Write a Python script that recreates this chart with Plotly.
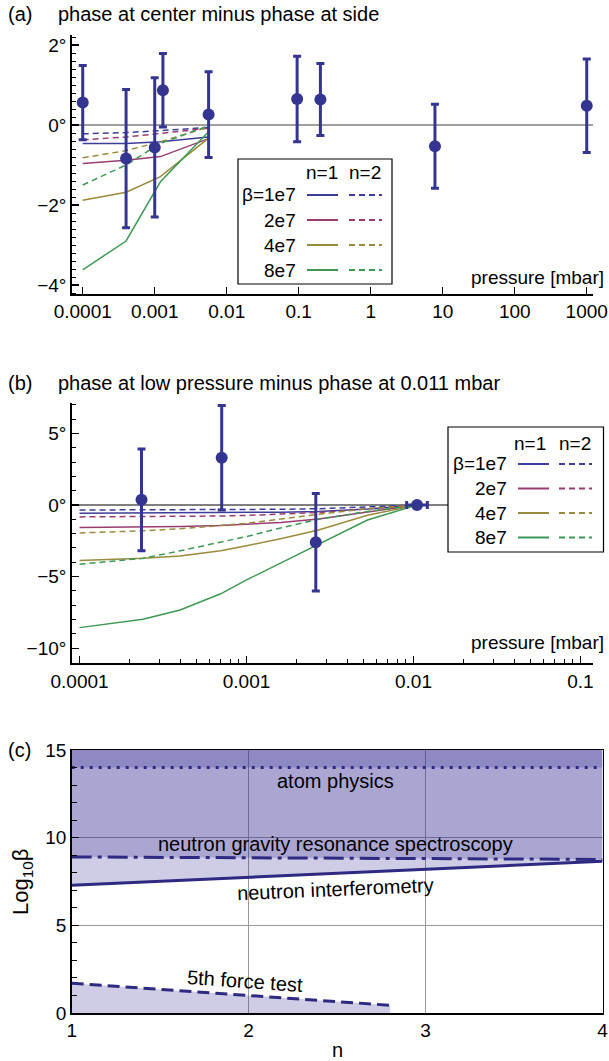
import plotly.graph_objects as go

W, H = 609, 1061
FONT = "Liberation Sans, Arial, sans-serif"

# ---------------- data ----------------
# panel (a): phase at center minus phase at side
a_pressure = [0.0001, 0.0004, 0.001, 0.0013, 0.0056, 0.095, 0.2, 7.8, 1000]
a_phase = [0.56, -0.84, -0.56, 0.87, 0.26, 0.65, 0.64, -0.53, 0.48]
a_err = [0.93, 1.73, 1.74, 0.92, 1.07, 1.07, 0.9, 1.05, 1.17]

a_theory_p = [0.0001, 0.0004, 0.0012, 0.0056]
a_n1 = {
    "1e7": [-0.46, -0.46, -0.42, -0.30],
    "2e7": [-0.96, -0.88, -0.79, -0.34],
    "4e7": [-1.88, -1.68, -1.29, -0.33],
    "8e7": [-3.62, -2.90, -1.42, -0.17],
}
a_n2 = {
    "1e7": [-0.22, -0.19, -0.14, -0.06],
    "2e7": [-0.37, -0.30, -0.21, -0.08],
    "4e7": [-0.82, -0.64, -0.42, -0.05],
    "8e7": [-1.50, -1.00, -0.46, -0.02],
}
a_xticks = [1e-4, 1e-3, 1e-2, 1e-1, 1, 10, 100, 1000]
a_xticklabels = ["0.0001", "0.001", "0.01", "0.1", "1", "10", "100", "1000"]
a_yticks = [-4, -2, 0, 2]
a_yticklabels = ["\u22124°", "\u22122°", "0°", "2°"]

# panel (b): phase at low pressure minus phase at 0.011 mbar
b_pressure = [0.000235, 0.00071, 0.0026, 0.0105]
b_phase = [0.36, 3.3, -2.6, 0.0]
b_err = [3.55, 3.65, 3.4, 0.0]
b_xerr_minus = [0, 0, 0, 0.0014]
b_xerr_plus = [0, 0, 0, 0.0016]

b_theory_p = [0.0001, 0.00024, 0.0004, 0.0007, 0.001, 0.0016, 0.0027, 0.0053, 0.0105]
b_n1 = {
    "1e7": [-0.58, -0.57, -0.56, -0.55, -0.53, -0.50, -0.45, -0.28, 0],
    "2e7": [-1.57, -1.55, -1.50, -1.43, -1.36, -1.22, -0.97, -0.50, 0],
    "4e7": [-3.88, -3.72, -3.56, -3.20, -2.85, -2.35, -1.74, -0.72, 0],
    "8e7": [-8.56, -7.98, -7.33, -6.20, -5.23, -4.05, -2.75, -1.05, 0],
}
b_n2 = {
    "1e7": [-0.35, -0.35, -0.34, -0.33, -0.32, -0.30, -0.26, -0.15, 0],
    "2e7": [-0.83, -0.82, -0.80, -0.77, -0.73, -0.65, -0.52, -0.27, 0],
    "4e7": [-1.95, -1.80, -1.66, -1.45, -1.28, -0.98, -0.64, -0.26, 0],
    "8e7": [-4.14, -3.72, -3.20, -2.60, -2.20, -1.60, -1.00, -0.45, 0],
}
b_xticks = [1e-4, 1e-3, 1e-2, 1e-1]
b_xticklabels = ["0.0001", "0.001", "0.01", "0.1"]
b_yticks = [-10, -5, 0, 5]
b_yticklabels = ["\u221210°", "\u22125°", "0°", "5°"]

# panel (c): exclusion limits
c_n = [1, 4]
c_atom = [14, 14]
c_top = [15, 15]
c_ngrs = [8.9, 8.76]
c_interf = [7.28, 8.66]
c_fifth_n = [1, 2.8]
c_fifth = [1.7, 0.44]
c_xticks = [1, 2, 3, 4]
c_yticks = [0, 5, 10, 15]

betas = ["1e7", "2e7", "4e7", "8e7"]
beta_labels = ["\u03b2=1e7", "2e7", "4e7", "8e7"]
colors = {
    "1e7": "rgb(61,61,153)",
    "2e7": "rgb(153,61,113)",
    "4e7": "rgb(153,139,61)",
    "8e7": "rgb(61,153,84)",
}
PT = "rgb(52,52,145)"
NAVY = "#2e2a82"
FILL = "rgba(51,43,145,0.235)"
DASH = "6px,4px"


def px(x):
    return x / W


def py(y):
    return 1 - y / H


fig = go.Figure()

# ---------- panel (a) ----------
for b in betas:
    fig.add_trace(go.Scatter(x=a_theory_p, y=a_n1[b], mode="lines",
                             line=dict(color=colors[b], width=1.5),
                             xaxis="x", yaxis="y", showlegend=False))
    fig.add_trace(go.Scatter(x=a_theory_p, y=a_n2[b], mode="lines",
                             line=dict(color=colors[b], width=1.5, dash=DASH),
                             xaxis="x", yaxis="y", showlegend=False))
fig.add_trace(go.Scatter(x=a_pressure, y=a_phase, mode="markers",
                         marker=dict(color=PT, size=12),
                         error_y=dict(type="data", array=a_err, color=PT,
                                      thickness=3, width=4),
                         xaxis="x", yaxis="y", showlegend=False))

# ---------- panel (b) ----------
for b in betas:
    fig.add_trace(go.Scatter(x=b_theory_p, y=b_n1[b], mode="lines",
                             line=dict(color=colors[b], width=1.5),
                             xaxis="x2", yaxis="y2", showlegend=False))
    fig.add_trace(go.Scatter(x=b_theory_p, y=b_n2[b], mode="lines",
                             line=dict(color=colors[b], width=1.5, dash=DASH),
                             xaxis="x2", yaxis="y2", showlegend=False))
fig.add_trace(go.Scatter(x=b_pressure, y=b_phase, mode="markers",
                         marker=dict(color=PT, size=12),
                         error_y=dict(type="data", array=b_err, color=PT,
                                      thickness=3, width=4),
                         error_x=dict(type="data", array=b_xerr_plus,
                                      arrayminus=b_xerr_minus, color=PT,
                                      thickness=3, width=4),
                         xaxis="x2", yaxis="y2", showlegend=False))


# ---------- panel (c) ----------
def band(lower, upper, xs=c_n):
    fig.add_trace(go.Scatter(x=xs, y=lower, mode="lines", line=dict(width=0),
                             xaxis="x3", yaxis="y3", showlegend=False,
                             hoverinfo="skip"))
    fig.add_trace(go.Scatter(x=xs, y=upper, mode="lines", line=dict(width=0),
                             fill="tonexty", fillcolor=FILL,
                             xaxis="x3", yaxis="y3", showlegend=False,
                             hoverinfo="skip"))


band(c_interf, c_top)
band(c_ngrs, c_top)
band(c_atom, c_top)
fig.add_trace(go.Scatter(x=c_fifth_n, y=c_fifth, mode="lines",
                         line=dict(width=0), fill="tozeroy", fillcolor=FILL,
                         xaxis="x3", yaxis="y3", showlegend=False))
fig.add_trace(go.Scatter(x=c_n, y=c_atom, mode="lines",
                         line=dict(color=NAVY, width=3, dash="3px,6px"),
                         xaxis="x3", yaxis="y3", showlegend=False))
fig.add_trace(go.Scatter(x=c_n, y=c_ngrs, mode="lines",
                         line=dict(color=NAVY, width=3, dash="20px,6px,4px,6px"),
                         xaxis="x3", yaxis="y3", showlegend=False))
fig.add_trace(go.Scatter(x=c_n, y=c_interf, mode="lines",
                         line=dict(color=NAVY, width=3),
                         xaxis="x3", yaxis="y3", showlegend=False))
fig.add_trace(go.Scatter(x=c_fifth_n, y=c_fifth, mode="lines",
                         line=dict(color=NAVY, width=3, dash="12px,6px"),
                         xaxis="x3", yaxis="y3", showlegend=False))

# ---------- axes ----------
tickfont = dict(family=FONT, size=19, color="black")
common = dict(showline=True, linecolor="black", linewidth=1.5, ticks="inside",
              tickcolor="black", tickwidth=1.5, tickfont=tickfont,
              automargin=False)

fig.update_layout(
    xaxis=dict(type="log", range=[-4.153, 3.087],
               domain=[px(71.7), px(593)], anchor="y",
               tickmode="array", tickvals=a_xticks, ticktext=a_xticklabels,
               ticklen=7, showgrid=False, zeroline=False, **common),
    yaxis=dict(range=[-4.225, 2.25], domain=[py(294), py(35)], anchor="x",
               tickmode="array", tickvals=a_yticks, ticktext=a_yticklabels,
               ticklen=7, showgrid=False, zeroline=True,
               zerolinecolor="#a0a0a0", zerolinewidth=1.5,
               minor=dict(tickmode="linear", tick0=0, dtick=0.2,
                          ticks="inside", ticklen=4, tickwidth=1,
                          tickcolor="black", showgrid=False),
               **common),
    xaxis2=dict(type="log", range=[-4.047, -0.925],
                domain=[px(71.7), px(593)], anchor="y2",
                tickmode="array", tickvals=b_xticks, ticktext=b_xticklabels,
                ticklen=7, showgrid=False, zeroline=False,
                minor=dict(tickvals=[k * 10 ** e for e in (-4, -3, -2)
                                     for k in range(2, 10)],
                           ticks="inside", ticklen=4, tickwidth=1,
                           tickcolor="black", showgrid=False),
                **common),
    yaxis2=dict(range=[-11.05, 7.12], domain=[py(663.3), py(403)], anchor="x2",
                tickmode="array", tickvals=b_yticks, ticktext=b_yticklabels,
                ticklen=7, showgrid=False, zeroline=True,
                zerolinecolor="#808080", zerolinewidth=1.2,
                minor=dict(tickmode="linear", tick0=0, dtick=1,
                           ticks="inside", ticklen=4, tickwidth=1,
                           tickcolor="black", showgrid=False),
                **common),
    xaxis3=dict(range=[1, 4], domain=[px(71.7), px(602.5)], anchor="y3",
                tickmode="array", tickvals=c_xticks,
                ticktext=[str(v) for v in c_xticks],
                ticklen=0, showgrid=True, gridcolor="#9a9a9a", gridwidth=1.2,
                zeroline=False, mirror=True, **common),
    yaxis3=dict(range=[0, 15], domain=[py(1013), py(750)], anchor="x3",
                tickmode="array", tickvals=c_yticks,
                ticktext=[str(v) for v in c_yticks],
                ticklen=7, showgrid=True, gridcolor="#9a9a9a", gridwidth=1.2,
                zeroline=False, mirror=True,
                minor=dict(tickmode="linear", tick0=0, dtick=1,
                           ticks="inside", ticklen=5, tickwidth=1,
                           tickcolor="black", showgrid=False),
                **common),
)

# ---------- legends, titles, labels ----------
shapes = []
annotations = []


def text(x, y, s, size=19, xanchor="left", angle=0):
    annotations.append(dict(x=px(x), y=py(y), xref="paper", yref="paper",
                            text=s, showarrow=False, xanchor=xanchor,
                            yanchor="middle", textangle=angle,
                            font=dict(family=FONT, size=size, color="black")))


def legend(x0, x1, y0, y1, head_y, rows_y, lab_x, s0, s1, d0, d1, n1x, n2x):
    shapes.append(dict(type="rect", xref="paper", yref="paper",
                       x0=px(x0), x1=px(x1), y0=py(y1), y1=py(y0),
                       line=dict(color="black", width=1.2),
                       fillcolor="white", layer="above"))
    text(n1x, head_y, "n=1", xanchor="center")
    text(n2x, head_y, "n=2", xanchor="center")
    for b, lab, ry in zip(betas, beta_labels, rows_y):
        text(lab_x, ry, lab, xanchor="right")
        shapes.append(dict(type="line", xref="paper", yref="paper",
                           x0=px(s0), x1=px(s1), y0=py(ry), y1=py(ry),
                           line=dict(color=colors[b], width=2), layer="above"))
        shapes.append(dict(type="line", xref="paper", yref="paper",
                           x0=px(d0), x1=px(d1), y0=py(ry), y1=py(ry),
                           line=dict(color=colors[b], width=2, dash=DASH),
                           layer="above"))


legend(238, 392, 159, 284, 173, [195, 220, 245, 270], 298,
       307, 338, 349, 382, 322, 365)
legend(448, 603.5, 427, 552, 443, [464, 488.5, 513, 537.5], 509,
       518, 549, 559, 592, 529.5, 575)

text(6, 14, "(a)", size=20)
text(56, 14, "phase at center minus phase at side", size=20)
text(606, 277, "pressure [mbar]", xanchor="right")

text(6, 383, "(b)", size=20)
text(56, 383, "phase at low pressure minus phase at 0.011 mbar", size=20)
text(606, 642, "pressure [mbar]", xanchor="right")

text(6, 750, "(c)", size=20)
text(22, 882, "Log<sub>10</sub>\u03b2", size=22, xanchor="center", angle=-90)
text(337, 1050, "n", size=20, xanchor="center")

# panel (c) region labels in data coordinates
for s, x, y, ang in [("atom physics", 2.49, 13.25, 0),
                     ("neutron gravity resonance spectroscopy", 2.49, 9.65, 0),
                     ("neutron interferometry", 2.49, 7.05, -2.5),
                     ("5th force test", 1.98, 1.82, 4)]:
    annotations.append(dict(x=x, y=y, xref="x3", yref="y3", text=s,
                            showarrow=False, xanchor="center", yanchor="middle",
                            textangle=ang,
                            font=dict(family=FONT, size=20, color="black")))

fig.update_layout(shapes=shapes, annotations=annotations,
                  width=W, height=H, margin=dict(l=0, r=0, t=0, b=0),
                  paper_bgcolor="white", plot_bgcolor="white",
                  showlegend=False, hovermode=False,
                  font=dict(family=FONT, color="black"))

fig.write_html("out.html",
               config={"displayModeBar": False, "staticPlot": True},
               post_script="document.body.style.margin='0';"
                           "document.body.style.overflow='hidden';")
